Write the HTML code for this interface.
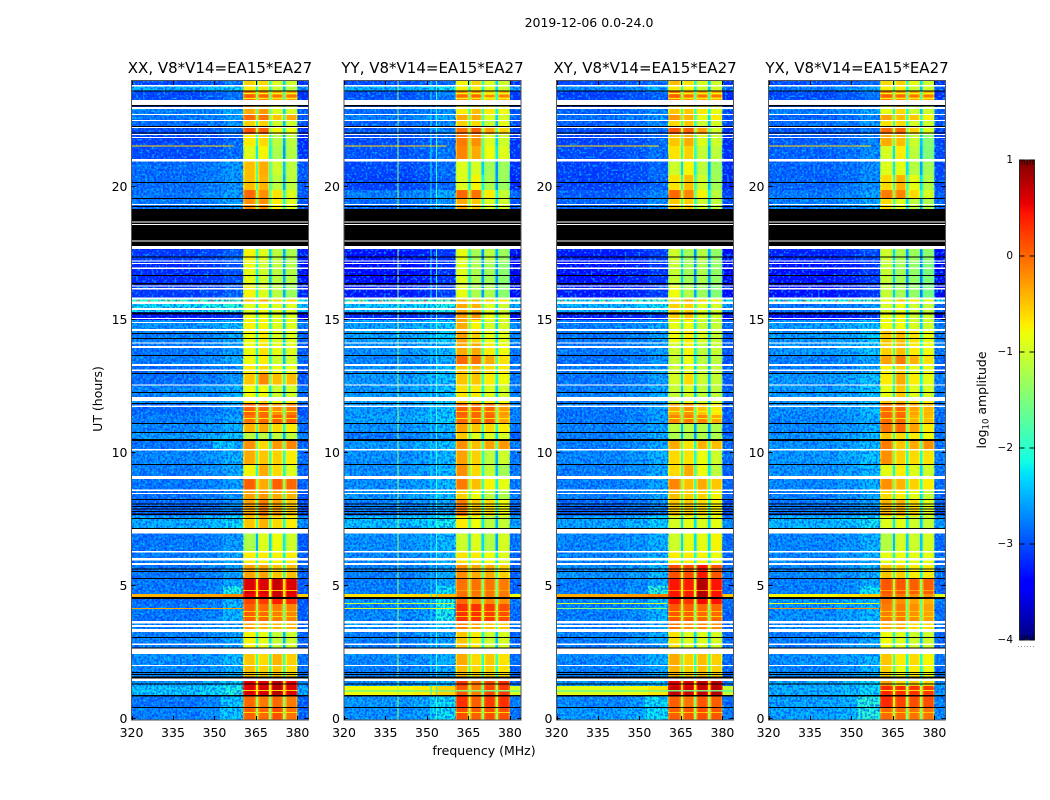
<!DOCTYPE html>
<html lang="en">
<head>
<meta charset="utf-8">
<title>2019-12-06 0.0-24.0</title>
<style>
html,body{margin:0;padding:0;background:#fff;width:1050px;height:800px;overflow:hidden}
svg{display:block}
text{font-family:"DejaVu Sans","Liberation Sans",sans-serif;fill:#000}
</style>
</head>
<body>
<svg id="fig" xmlns="http://www.w3.org/2000/svg" width="1050" height="800" viewBox="0 0 1050 800">
  <defs>
    <filter id="noiseDark" x="0" y="0" width="100%" height="100%" color-interpolation-filters="sRGB">
      <feTurbulence type="fractalNoise" baseFrequency="0.46 0.42" numOctaves="1" seed="3"/>
      <feColorMatrix type="matrix" values="0 0 0 0 0  0 0 0 0 0.12  0 0 0 0 1  8 0 0 0 -3.7"/>
    </filter>
    <filter id="noiseLight" x="0" y="0" width="100%" height="100%" color-interpolation-filters="sRGB">
      <feTurbulence type="fractalNoise" baseFrequency="0.44 0.46" numOctaves="1" seed="11"/>
      <feColorMatrix type="matrix" values="0 0 0 0 0  0 0 0 0 0.9  0 0 0 0 1  0 8 0 0 -4.4"/>
    </filter>
  </defs>
  <rect x="0" y="0" width="1050" height="800" fill="#fff"/>
  <text x="589" y="27" font-size="12.5" text-anchor="middle">2019-12-06 0.0-24.0</text>
  <text transform="translate(102,399) rotate(-90)" font-size="12.5" text-anchor="middle">UT (hours)</text>
  <text x="484" y="755" font-size="12.5" text-anchor="middle">frequency (MHz)</text>
  <text transform="translate(986,400) rotate(-90)" font-size="12.5" text-anchor="middle">log<tspan font-size="8.5" dy="2.5">10</tspan><tspan dy="-2.5"> amplitude</tspan></text>
  <line x1="1018" x2="1035" y1="646.5" y2="646.5" stroke="#999" stroke-width="1" stroke-dasharray="1 2"/>
  <g id="panels"></g>
  <g id="cbar"></g>
</svg>
<script>
// ---------- chart data ----------
const panelTitles = ["XX, V8*V14=EA15*EA27","YY, V8*V14=EA15*EA27","XY, V8*V14=EA15*EA27","YX, V8*V14=EA15*EA27"];
const freqTicks = [320,335,350,365,380];
const utTicks = [0,5,10,15,20];
const cbarTicks = [1,0,-1,-2,-3,-4];

// UT hour edges of the time blocks, top of the plot downward
const rowEdgesUT = [24.0,23.81,23.62,23.29,22.99,22.76,22.50,22.27,22.01,21.56,21.03,20.47,19.91,19.57,19.19,17.65,17.20,16.34,15.85,15.62,15.32,15.02,14.61,14.16,13.71,13.30,13.03,12.58,12.13,11.87,11.46,11.15,10.78,10.52,10.14,9.58,9.13,8.64,8.26,7.66,7.17,6.31,5.82,5.33,4.73,4.62,4.36,3.68,3.31,2.70,2.03,1.54,1.28,0.90,0.45,0];

// frequency channels: MHz start, MHz end, source column in the row tables, log10 offset
const freqChannels = [
[320,345,0,0],[345,353,0,0.08],[353,360.4,0,0.22],
[360.4,360.9,1,-0.3],[360.9,364.4,1,0],[364.4,365,1,-0.25],[365,365.7,1,-1.3],
[365.7,366.2,2,-0.25],[366.2,369.3,2,0],[369.3,369.8,2,-0.25],[369.8,370.6,2,-1.4],
[370.6,371.1,3,-0.25],[371.1,374.3,3,0],[374.3,374.8,3,-0.25],[374.8,375.7,3,-1.4],
[375.7,376.2,4,-0.25],[376.2,379.5,4,0],[379.5,380,4,-0.25],
[380,384,0,-0.15]];

// log10 amplitude per time block: background, then the four sub-bands
const xxRows = [
[-3.0,-0.55,-0.6,-0.9,-1.0],[-2.45,-0.7,-0.65,-1.0,-1.1],[-3.0,-0.05,-0.15,-0.3,-0.3],[-3.1,-0.3,-0.3,-0.8,-0.9],[-2.7,-0.35,-0.25,-0.9,-0.95],
[-2.75,0,-0.05,-0.5,-0.35],[-2.8,-0.55,-0.55,-1.0,-1.0],[-3.0,0.1,0.05,-0.75,-0.8],[-3.05,-0.7,-0.6,-1.1,-1.1],[-3.0,-0.9,-0.75,-1.2,-1.15],
[-2.8,-0.45,-0.35,-1.0,-1.1],[-2.8,-0.45,-0.4,-1.1,-1.1],[-2.75,0,-0.2,-0.65,-0.9],[-2.75,-0.2,-0.2,-0.7,-0.9],[-3.2,-0.8,-0.9,-1.1,-1.2],
[-3.1,-0.75,-0.9,-1.1,-1.2],[-3.2,-0.85,-1.0,-1.1,-1.15],[-3.1,-0.75,-0.9,-1.1,-1.3],[-1.95,-0.5,-0.35,-0.6,-0.6],[-2.2,-0.9,-0.8,-0.9,-0.9],
[-3.3,-0.8,-0.8,-0.9,-0.9],[-2.6,-0.75,-0.75,-0.9,-0.9],[-2.7,-0.8,-0.7,-0.9,-0.9],[-2.75,-0.8,-0.65,-0.85,-0.9],[-2.7,-0.8,-0.7,-1.0,-1.0],
[-2.8,-0.7,-0.6,-0.8,-0.85],[-2.8,-0.5,-0.15,-0.45,-0.45],[-2.65,-0.8,-0.8,-1.0,-1.0],[-2.6,-0.7,-0.6,-0.8,-0.7],[-2.8,0.05,0,-0.2,-0.1],
[-2.7,-0.05,0,0.05,0.05],[-2.65,-0.4,-0.35,-0.6,-0.7],[-2.55,-1.1,-1.1,-1.1,-1.1],[-2.75,-0.2,-0.6,-0.25,-0.15],[-2.65,-0.35,-0.5,-0.55,-0.7],
[-2.7,-0.75,-0.35,-0.6,-0.9],[-2.75,0.05,-0.35,0.05,0],[-2.8,-0.3,-0.25,-0.35,-0.4],[-2.85,-0.3,-0.1,-0.3,-0.5],[-2.45,-0.5,-0.4,-0.6,-0.7],
[-2.75,-1.2,-0.9,-0.8,-1.0],[-2.7,-0.7,-0.7,-0.75,-0.7],[-2.75,-0.3,-0.3,-0.5,-0.45],[-2.75,0.6,0.6,0.7,0.6],[-0.4,0.5,0.5,0.7,0.55],
[-2.8,0.2,0.25,0.4,0.35],[-2.75,0.05,0,-0.1,-0.15],[-2.7,-0.3,-0.4,-0.4,-0.4],[-2.7,-0.75,-0.85,-1.05,-1.0],[-2.6,-0.5,-0.6,-0.4,-0.55],
[-2.65,-0.45,-0.55,-0.5,-0.6],[-2.5,0.55,0.6,0.7,0.55],[-2.3,0.6,0.65,0.75,0.6],[-2.75,0,-0.1,0,-0.1],[-2.7,0.05,0,0.15,-0.05]];

const yyRows = [
[-3.0,-0.75,-0.55,-0.9,-1.0],[-2.4,-0.75,-0.7,-0.9,-1.0],[-2.95,-0.2,-0.2,-0.55,-0.4],[-3.0,-0.7,-0.55,-0.75,-0.8],[-2.8,-0.7,-0.45,-0.7,-0.8],
[-2.7,-0.35,-0.35,-0.9,-0.95],[-2.85,-0.55,-0.6,-1.05,-0.85],[-2.9,-0.05,0.05,-0.3,-0.55],[-3.0,-0.1,-0.2,-0.9,-1.0],[-2.95,-0.15,-0.35,-0.8,-0.9],
[-3.0,-0.9,-0.95,-1.25,-1.3],[-3.05,-0.9,-0.75,-1.2,-1.3],[-2.7,0,-0.05,-0.7,-1.05],[-2.8,-0.35,-0.5,-0.9,-1.0],[-3.2,-0.8,-1.0,-1.1,-1.3],
[-3.35,-0.85,-1.25,-1.1,-1.3],[-3.4,-0.9,-1.2,-1.25,-1.4],[-3.3,-0.85,-1.2,-1.2,-1.4],[-1.85,-0.4,-0.45,-0.55,-0.7],[-2.3,-0.35,-0.4,-0.9,-1.0],
[-3.2,-0.3,-0.25,-0.8,-0.9],[-2.5,-0.35,-0.75,-0.95,-0.95],[-2.5,-0.3,-0.55,-0.85,-0.9],[-2.6,-0.35,-0.35,-0.7,-0.8],[-2.65,0,-0.05,-0.35,-0.65],
[-2.6,-0.5,-0.45,-0.6,-0.7],[-2.55,-0.5,-0.5,-0.7,-0.8],[-2.55,-0.65,-0.7,-0.9,-1.0],[-2.5,-0.5,-0.6,-0.7,-0.8],[-2.55,0.05,0,0,-0.25],
[-2.5,0,0,0.05,-0.3],[-2.6,-0.3,-0.5,-0.6,-0.7],[-2.75,-0.5,-0.9,-0.9,-0.95],[-2.55,-0.2,-0.45,-0.3,-0.25],[-2.6,-0.3,-0.55,-1.1,-1.0],
[-2.6,-0.2,-0.6,-1.05,-1.25],[-2.6,-0.1,-0.45,-0.75,-0.85],[-2.55,-0.55,-0.8,-1.1,-1.2],[-2.7,-0.1,-0.5,-0.6,-0.8],[-2.35,-0.7,-0.8,-1.1,-1.05],
[-2.6,-1.0,-0.9,-1.15,-0.95],[-2.65,-0.65,-0.7,-0.8,-0.9],[-2.7,-0.2,-0.35,-0.35,-0.55],[-2.7,-0.05,-0.05,-0.05,-0.1],[-0.65,-0.05,-0.1,-0.1,-0.1],
[-2.55,0,-0.2,-0.15,-0.2],[-2.65,0.3,0.3,0.25,0.15],[-2.6,-0.1,-0.3,-0.45,-0.5],[-2.7,-0.5,-0.7,-1.0,-0.95],[-2.65,-0.35,-0.6,-0.5,-0.65],
[-2.7,-0.45,-0.6,-0.55,-0.65],[-2.6,0.25,-0.05,0.15,0.3],[-0.8,0.1,-0.1,0.2,0.25],[-2.55,0.3,0.05,0.25,0.3],[-2.6,0.15,0.05,0.15,0.15]];

const xyRows = [
[-3.0,-0.45,-0.65,-0.95,-1.0],[-2.65,-0.7,-0.75,-1.0,-0.95],[-3.05,-0.05,-0.25,-0.3,-0.35],[-3.1,-0.55,-0.5,-0.65,-0.85],[-2.85,-0.5,-0.5,-0.7,-0.85],
[-2.8,-0.25,-0.4,-0.85,-0.7],[-2.85,-0.6,-0.5,-1.0,-0.95],[-3.0,0.1,0.05,-0.3,-0.95],[-3.05,-0.5,-0.35,-0.9,-1.0],[-3.0,-0.65,-0.55,-1.05,-1.1],
[-3.05,-1.0,-0.75,-1.1,-1.3],[-3.05,-0.65,-0.45,-1.0,-1.25],[-2.9,0,-0.15,-0.75,-1.1],[-2.85,-0.5,-0.55,-1.0,-1.1],[-3.2,-0.9,-1.1,-1.1,-1.3],
[-3.3,-1.0,-1.25,-1.15,-1.35],[-3.35,-1.05,-1.25,-1.2,-1.35],[-3.3,-0.8,-1.15,-1.3,-1.45],[-2.1,-0.6,-0.35,-0.6,-0.75],[-2.4,-0.55,-0.55,-0.9,-0.95],
[-3.3,-0.55,-0.5,-0.9,-1.0],[-2.7,-0.85,-0.8,-1.05,-1.05],[-2.75,-0.8,-0.7,-0.95,-1.05],[-2.75,-1.0,-0.75,-1.1,-1.05],[-2.8,-1.05,-0.8,-1.1,-1.1],
[-2.7,-1.0,-0.85,-1.05,-1.05],[-2.75,-0.95,-0.6,-1.0,-1.05],[-2.7,-1.05,-0.95,-1.1,-1.1],[-2.7,-1.0,-0.8,-1.0,-1.0],[-2.75,-0.35,-0.2,-0.5,-0.7],
[-2.75,-0.15,-0.1,-0.15,-0.35],[-2.7,-1.1,-1.1,-1.15,-1.2],[-2.7,-1.2,-1.2,-1.2,-1.2],[-2.7,-0.35,-0.65,-0.4,-0.45],[-2.65,-0.6,-0.65,-0.8,-1.0],
[-2.7,-0.6,-0.35,-0.8,-1.1],[-2.7,-0.15,-0.45,-0.35,-0.5],[-2.7,-0.45,-0.55,-0.55,-0.75],[-2.85,-0.5,-0.5,-0.6,-0.75],[-2.5,-0.95,-0.85,-0.9,-0.85],
[-2.65,-1.0,-0.85,-0.85,-0.75],[-2.65,-0.7,-0.7,-0.75,-0.8],[-2.6,0.15,0.15,0.45,0.1],[-2.7,0.45,0.4,0.8,0.45],[-0.35,0.45,0.4,0.8,0.45],
[-2.65,0.45,0.3,0.5,0.45],[-2.7,0.1,0.05,0,0],[-2.7,-0.05,-0.2,-0.15,-0.2],[-2.7,-0.65,-0.9,-0.9,-0.95],[-2.65,-0.35,-0.55,-0.45,-0.55],
[-2.7,-0.4,-0.55,-0.45,-0.55],[-2.55,0.55,0.55,0.7,0.7],[-0.9,0.7,0.65,0.7,0.75],[-2.65,0.05,-0.05,0.1,0.05],[-2.55,0.05,0.1,0.15,0.1]];

const yxRows = [
[-3.0,-0.6,-0.55,-0.85,-1.0],[-2.7,-0.7,-0.7,-1.0,-1.0],[-3.0,-0.1,-0.2,-0.3,-0.35],[-3.0,-0.9,-0.45,-0.9,-0.95],[-2.7,-0.85,-0.6,-1.0,-1.0],
[-2.85,-0.3,-0.45,-0.5,-0.75],[-2.8,-0.65,-0.6,-0.95,-1.0],[-2.95,0,0,-0.55,-0.9],[-2.9,-0.35,-0.45,-1.0,-1.4],[-2.85,-0.95,-0.7,-1.1,-1.45],
[-2.85,-0.9,-0.85,-1.15,-1.25],[-2.85,-0.6,-0.4,-0.85,-1.15],[-2.75,-0.1,-0.15,-0.6,-0.95],[-2.7,-0.6,-0.9,-1.1,-1.2],[-3.2,-0.9,-1.1,-1.2,-1.3],
[-3.25,-1.0,-1.2,-1.3,-1.4],[-3.35,-1.05,-1.25,-1.35,-1.5],[-3.35,-1.05,-1.25,-1.35,-1.55],[-2.1,-0.8,-0.55,-0.7,-0.9],[-2.75,-0.95,-0.85,-1.0,-1.05],
[-3.35,-0.85,-0.75,-1.0,-1.0],[-2.55,-0.8,-0.8,-0.95,-1.0],[-2.55,-0.5,-0.45,-0.65,-0.85],[-2.55,-0.55,-0.45,-0.7,-0.8],[-2.7,-0.3,-0.1,-0.4,-0.65],
[-2.7,-0.75,-0.55,-0.85,-0.85],[-2.55,-0.7,-0.35,-0.7,-0.85],[-2.55,-0.85,-0.5,-0.9,-0.95],[-2.55,-0.5,-0.4,-0.6,-0.7],[-2.6,0,0,-0.3,-0.4],
[-2.65,0,0,-0.4,-0.45],[-2.65,-0.05,0,-0.3,-0.7],[-2.6,-0.5,-0.6,-0.7,-0.8],[-2.6,-0.1,-0.5,-0.35,-0.2],[-2.55,-0.2,-0.55,-0.6,-0.65],
[-2.6,-0.85,-0.7,-0.9,-1.0],[-2.65,-0.2,-0.4,-0.55,-0.7],[-2.7,-0.6,-0.7,-0.85,-1.05],[-2.75,-0.4,-0.4,-0.6,-0.9],[-2.4,-0.9,-0.85,-1.0,-1.05],
[-2.65,-1.15,-0.95,-1.0,-0.95],[-2.65,-0.85,-0.8,-0.85,-0.85],[-2.65,-0.5,-0.55,-0.7,-0.7],[-2.7,0.1,0.1,0.05,0.05],[-0.75,0,-0.1,-0.2,-0.2],
[-2.55,-0.05,-0.2,-0.3,-0.4],[-2.6,-0.1,-0.1,-0.2,-0.3],[-2.6,-0.35,-0.35,-0.6,-0.6],[-2.7,-0.8,-0.9,-1.0,-1.0],[-2.6,-0.5,-0.7,-0.6,-0.75],
[-2.65,-0.55,-0.8,-0.7,-0.8],[-2.45,-0.3,-0.6,-0.5,-0.6],[-2.45,0.35,0.3,0.3,0.25],[-2.5,0.35,0.2,0.15,0.15],[-2.5,0,0,-0.05,-0.05]];

// brighter patches next to the band: UT top, UT bottom, MHz start, MHz end, then XX, YY, XY, YX
const shoulderPatches = [
[10.5,10.2,349.5,357,-2.3,null,null,null],
[5.03,4.62,353,360.4,-2.1,-2.2,-2.0,-2.2],
[4.62,3.68,353,360.4,-2.4,-2.1,-2.4,-2.4],
[1.28,0.90,345,360.4,null,-0.55,-0.4,null],
[0.90,0,352,360.4,-2.3,-2.2,-2.2,-2.0]];

// narrow interference lines: UT hour, MHz start, MHz end, then value in XX, YY, XY, YX
const hotLines = [
[21.58,320,357,-0.6,-0.6,-0.6,-0.6],
[4.39,320,360,null,-1.1,-1.0,-0.9],
[4.21,320,360,-0.3,-0.9,-1.4,-0.2],
[1.10,320,384,null,-1.9,-2.0,null]];

// thin lighter lines across the sub-bands: UT hour, then value in XX, YY, XY, YX
const bandStripes = [
[23.55,-0.8,-0.8,-0.8,-0.8],
[23.46,0.2,0.2,0.2,0.2],
[23.36,-0.7,-0.7,-0.7,-0.7],
[11.6,-0.7,-0.6,-0.8,-0.5],
[11.34,-0.7,-0.7,-0.8,-0.6],
[4.88,-0.5,-0.3,-0.2,-0.3],
[4.10,-0.5,-0.4,-0.5,-0.5],
[3.90,-0.6,-0.5,-0.6,-0.6],
[1.13,-0.6,-0.7,-0.6,-0.6],
[0.30,-0.6,-0.6,-0.5,-0.5]];

// bright spots in the 15.76 h row
const hotSpotFreqs = [322,326,333,337,344,349];
const hotSpotValues = [-0.3,0.2,0.2,-0.3,0.2,0.2];

// faint always-on channels visible in YY only
const yySpurFreqs = [339.3,351.2,353.3];
const yySpurValues = [-1.3,-2.2,-2.0];

// flagged intervals [UT start, UT end], same in every panel
const noDataWhite = [[23.85,23.80],[23.29,23.10],[23.02,22.95],[22.76,22.72],[22.54,22.50],[22.27,22.23],[22.01,21.97],[21.90,21.86],[21.07,20.98],[19.38,19.34],[18.72,18.69],[18.63,18.59],[18.01,17.97],[17.81,17.69],[17.26,17.22],[17.16,17.13],[17.0,16.94],[16.32,16.28],[16.23,16.17],[15.87,15.79],[15.72,15.62],[15.47,15.40],[15.10,15.06],[14.95,14.91],[14.69,14.61],[14.18,14.14],[14.05,13.97],[13.37,13.30],[13.17,13.11],[12.61,12.56],[12.13,11.98],[11.82,11.76],[10.17,10.13],[9.16,9.05],[8.65,8.61],[8.53,8.48],[7.17,7.01],[6.34,6.30],[6.08,6.00],[5.89,5.83],[3.71,3.63],[3.56,3.49],[3.41,3.31],[2.88,2.82],[2.68,2.48],[2.07,2.03],[1.55,1.46]];
const flaggedBlack = [[23.65,23.61],[23.10,23.04],[22.31,22.27],[22.07,22.02],[20.21,20.17],[19.61,19.57],[19.31,19.27],[19.19,18.72],[18.69,18.63],[18.59,18.01],[17.97,17.81],[17.41,17.37],[16.71,16.68],[16.41,16.36],[15.31,15.23],[14.54,14.50],[14.35,14.31],[13.71,13.67],[13.03,13.0],[12.32,12.28],[11.91,11.87],[11.15,11.12],[10.82,10.78],[10.55,10.48],[9.62,9.58],[8.30,8.26],[8.13,8.09],[8.04,8.0],[7.94,7.91],[7.85,7.81],[7.76,7.70],[7.59,7.54],[7.21,7.17],[5.69,5.65],[5.60,5.56],[5.33,5.30],[4.62,4.54],[3.12,3.08],[2.72,2.69],[1.80,1.77],[1.73,1.69],[1.63,1.56],[1.37,1.33],[0.94,0.88],[0.49,0.45]];

// ---------- layout and scales ----------
const panelRows = [xxRows,yyRows,xyRows,yxRows];
const panelKeys = ["xx","yy","xy","yx"];
const panelLefts = [131.5,344,556.5,768.5];
const plotWidth = 177, plotTop = 81, plotBottom = 720;
const freqMin = 320, freqMax = 384, utMax = 24;
const cbarMin = -4, cbarMax = 1, cbarLeft = 1019.5, cbarRight = 1034.5, cbarTop = 160, cbarBottom = 640;
const NS = "http://www.w3.org/2000/svg";

function xScale(left, mhz){ return left + (mhz - freqMin) / (freqMax - freqMin) * plotWidth; }
function yScale(ut){ return plotBottom - ut / utMax * (plotBottom - plotTop); }
function cbarScale(v){ return cbarBottom - (v - cbarMin) / (cbarMax - cbarMin) * (cbarBottom - cbarTop); }

function ramp(t, pts){
  for (let i = 1; i < pts.length; i++){
    if (t <= pts[i][0]){
      const a = pts[i-1], b = pts[i];
      return a[1] + (b[1]-a[1]) * (t-a[0]) / (b[0]-a[0]);
    }
  }
  return pts[pts.length-1][1];
}
function jet(v){
  const t = Math.max(0, Math.min(1, (v - cbarMin) / (cbarMax - cbarMin)));
  const r = ramp(t, [[0,0],[0.35,0],[0.66,1],[0.89,1],[1,0.5]]);
  const g = ramp(t, [[0,0],[0.125,0],[0.375,1],[0.64,1],[0.91,0],[1,0]]);
  const b = ramp(t, [[0,0.5],[0.11,1],[0.34,1],[0.65,0],[1,0]]);
  return "rgb(" + Math.round(r*255) + "," + Math.round(g*255) + "," + Math.round(b*255) + ")";
}
function svgEl(tag, parent){
  const el = document.createElementNS(NS, tag);
  parent.appendChild(el);
  return el;
}
function place(el, x, y, w, h, fill){
  el.setAttribute("x", x);
  el.setAttribute("y", y);
  el.setAttribute("width", w);
  el.setAttribute("height", h);
  el.setAttribute("fill", fill);
}
function seg(el, x1, y1, x2, y2, stroke){
  el.setAttribute("x1", x1);
  el.setAttribute("y1", y1);
  el.setAttribute("x2", x2);
  el.setAttribute("y2", y2);
  el.setAttribute("stroke", stroke);
  el.setAttribute("stroke-width", "1");
}

const panelsRoot = document.getElementById("panels");

panelRows.forEach((rows, p) => {
  const left = panelLefts[p];
  const g = svgEl("g", panelsRoot);
  
  

  const img = svgEl("g", g);
  
  
  img.setAttribute("shape-rendering", "crispEdges");

  // heatmap cells
  rows.forEach((row, r) => {
    const y0 = yScale(rowEdgesUT[r]), y1 = yScale(rowEdgesUT[r+1]);
    freqChannels.forEach(ch => {
      const x0 = xScale(left, ch[0]), x1 = xScale(left, ch[1]);
      const cell = svgEl("rect", img);
      
      
      place(cell, x0, y0, x1 - x0, y1 - y0, jet(row[ch[2]] + ch[3]));
    });
  });

  // patches beside the band
  shoulderPatches.forEach(patch => {
    const v = patch[4 + p];
    if (v === null) return;
    const s = svgEl("rect", img);
    
    
    place(s, xScale(left, patch[2]), yScale(patch[0]), xScale(left, patch[3]) - xScale(left, patch[2]), yScale(patch[1]) - yScale(patch[0]), jet(v));
  });

  // noise look over the background channels (texture only, not data)
  [[freqMin,360.4],[380,freqMax]].forEach(range => {
    const x0 = xScale(left, range[0]), w = xScale(left, range[1]) - x0;
    const dark = svgEl("rect", img);
    
    
    place(dark, x0, plotTop, w, plotBottom - plotTop, "#000");
    dark.setAttribute("filter", "url(#noiseDark)");
    dark.setAttribute("opacity", "0.55");
    const light = svgEl("rect", img);
    
    
    place(light, x0, plotTop, w, plotBottom - plotTop, "#000");
    light.setAttribute("filter", "url(#noiseLight)");
    light.setAttribute("opacity", "0.55");
  });

  // blocks with strong continuum stay smooth: redraw them above the noise
  rows.forEach((row, r) => {
    if (row[0] <= -1.2) return;
    const y0 = yScale(rowEdgesUT[r]), y1 = yScale(rowEdgesUT[r+1]);
    freqChannels.forEach(ch => {
      if (ch[2] !== 0) return;
      const x0 = xScale(left, ch[0]), x1 = xScale(left, ch[1]);
      const cell = svgEl("rect", img);
      
      
      place(cell, x0, y0, x1 - x0, y1 - y0, jet(row[0] + ch[3]));
    });
  });

  // thin lines across the sub-bands
  bandStripes.forEach(st => {
    for (let c = 0; c < freqChannels.length; c++){
      const ch = freqChannels[c];
      if (ch[2] === 0 || ch[3] < -1) continue;
      const l = svgEl("rect", img);
      
      
      place(l, xScale(left, ch[0]), yScale(st[0]), xScale(left, ch[1]) - xScale(left, ch[0]), 1, jet(st[1 + p] + ch[3]));
    }
  });

  // YY always-on channels
  if (panelKeys[p] === "yy"){
    yySpurFreqs.forEach((f, i) => {
      const l = svgEl("rect", img);
      
      
      place(l, xScale(left, f), plotTop, 1, plotBottom - plotTop, jet(yySpurValues[i]));
    });
  }

  // interference lines
  hotLines.forEach(line => {
    const v = line[3 + p];
    if (v === null) return;
    const l = svgEl("rect", img);
    
    
    place(l, xScale(left, line[1]), yScale(line[0]), xScale(left, line[2]) - xScale(left, line[1]), 1, jet(v));
  });
  hotSpotFreqs.forEach((f, i) => {
    const s = svgEl("rect", img);
    
    
    place(s, xScale(left, f), yScale(15.76), 2, 1.5, jet(hotSpotValues[i]));
  });

  // flagged intervals
  flaggedBlack.forEach(iv => {
    const b = svgEl("rect", img);
    
    
    place(b, left, yScale(iv[0]), plotWidth, yScale(iv[1]) - yScale(iv[0]), "#000");
  });
  noDataWhite.forEach(iv => {
    const w = svgEl("rect", img);
    
    
    place(w, left, yScale(iv[0]), plotWidth, yScale(iv[1]) - yScale(iv[0]), "#fff");
  });

  // frame
  const frame = svgEl("rect", g);
  
  
  place(frame, left, plotTop - 0.5, plotWidth, plotBottom - plotTop + 0.5, "none");
  frame.setAttribute("stroke", "#555");
  frame.setAttribute("stroke-width", "1");

  // x ticks and labels
  freqTicks.forEach(f => {
    const x = Math.round(xScale(left, f)) + 0.5;
    const top = svgEl("line", g);
    
    
    seg(top, x, plotTop, x, plotTop + 4, "#000");
    const bottom = svgEl("line", g);
    
    
    seg(bottom, x, plotBottom, x, plotBottom - 4, "#000");
    const lab = svgEl("text", g);
    
    
    lab.setAttribute("x", xScale(left, f));
    lab.setAttribute("y", 737);
    lab.setAttribute("font-size", "12.5");
    lab.setAttribute("text-anchor", "middle");
    lab.textContent = String(f);
  });

  // y ticks and labels
  utTicks.forEach(u => {
    const y = Math.round(yScale(u)) - 1.5;
    const a = svgEl("line", g);
    
    
    seg(a, left, y, left + 4, y, "#000");
    const b = svgEl("line", g);
    
    
    seg(b, left + plotWidth, y, left + plotWidth - 4, y, "#000");
    const lab = svgEl("text", g);
    
    
    lab.setAttribute("x", left - 4);
    lab.setAttribute("y", y + 4.5);
    lab.setAttribute("font-size", "12.5");
    lab.setAttribute("text-anchor", "end");
    lab.textContent = String(u);
  });

  // title
  const title = svgEl("text", g);
  
  
  title.setAttribute("x", left + plotWidth / 2);
  title.setAttribute("y", 73);
  title.setAttribute("font-size", "15");
  title.setAttribute("text-anchor", "middle");
  title.textContent = panelTitles[p];
});

// ---------- colorbar ----------
const cbarRoot = document.getElementById("cbar");
const cbarSteps = 240;
const cbarGrad = svgEl("g", cbarRoot);


cbarGrad.setAttribute("shape-rendering", "crispEdges");
for (let i = 0; i < cbarSteps; i++){
  const v0 = cbarMin + (cbarMax - cbarMin) * i / cbarSteps;
  const v1 = cbarMin + (cbarMax - cbarMin) * (i + 1) / cbarSteps;
  const s = svgEl("rect", cbarGrad);
  place(s, cbarLeft, cbarScale(v1), cbarRight - cbarLeft, cbarScale(v0) - cbarScale(v1) + 0.5, jet((v0 + v1) / 2));
}
for (let i = 0; i < 5; i++){
  const x = cbarLeft + 2.5 + i * 2.7;
  const tTop = svgEl("line", cbarRoot);
  
  
  seg(tTop, x, cbarTop, x, cbarTop + 5, "rgba(0,0,0,0.7)");
  const tBot = svgEl("line", cbarRoot);
  
  
  seg(tBot, x, cbarBottom, x, cbarBottom - 5, "rgba(0,0,0,0.7)");
}
const cbarFrame = svgEl("rect", cbarRoot);


place(cbarFrame, cbarLeft, cbarTop, cbarRight - cbarLeft, cbarBottom - cbarTop, "none");
cbarFrame.setAttribute("stroke", "#222");
cbarFrame.setAttribute("stroke-width", "1");
cbarTicks.forEach(v => {
  const y = cbarScale(v);
  const a = svgEl("line", cbarRoot);
  
  
  seg(a, cbarLeft, y, cbarLeft + 5, y, "#000");
  const b = svgEl("line", cbarRoot);
  
  
  seg(b, cbarRight, y, cbarRight - 5, y, "#000");
  const lab = svgEl("text", cbarRoot);
  
  
  lab.setAttribute("x", 1013);
  lab.setAttribute("y", y + 3);
  lab.setAttribute("font-size", "10.5");
  lab.setAttribute("text-anchor", "end");
  lab.textContent = String(v).replace("-", "\u2212");
});
</script>
</body>
</html>
